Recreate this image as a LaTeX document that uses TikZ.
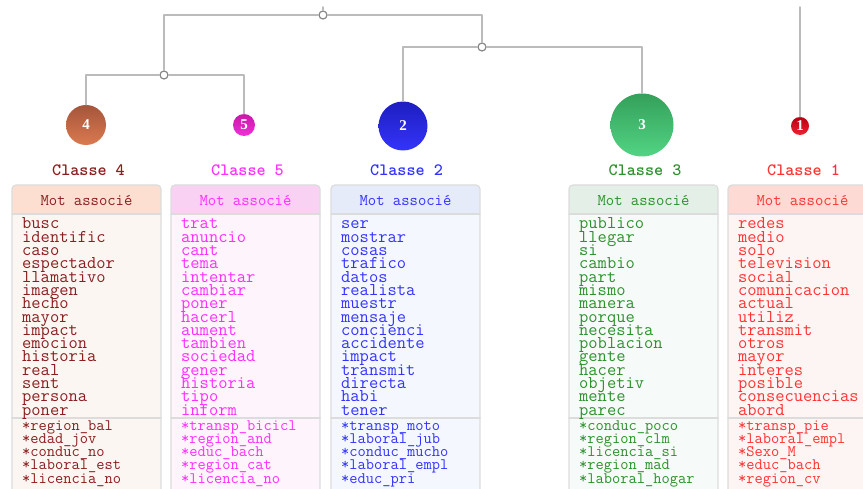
\documentclass[tikz,border=0pt]{standalone}
\usepackage{fontspec}
\newfontfamily\numfont{Liberation Serif}
% colours of the five classes: text, header, body, ball shading
\definecolor{tx4}{HTML}{8B1E1E}\definecolor{hd4}{HTML}{FDDFD2}\definecolor{bd4}{HTML}{FCF6F3}
\definecolor{tx5}{HTML}{FF2EFF}\definecolor{hd5}{HTML}{F9D2F3}\definecolor{bd5}{HTML}{FDF4FC}
\definecolor{tx2}{HTML}{3333FF}\definecolor{hd2}{HTML}{E5EBF9}\definecolor{bd2}{HTML}{F4F7FE}
\definecolor{tx3}{HTML}{2C922C}\definecolor{hd3}{HTML}{E3EFE7}\definecolor{bd3}{HTML}{F6FAF8}
\definecolor{tx1}{HTML}{FF3333}\definecolor{hd1}{HTML}{FDDAD3}\definecolor{bd1}{HTML}{FCF5F3}
\definecolor{dk4}{HTML}{A5553B}\definecolor{lt4}{HTML}{DA7A50}
\definecolor{dk5}{HTML}{C818A8}\definecolor{lt5}{HTML}{F030D8}
\definecolor{dk2}{HTML}{1E1EC0}\definecolor{lt2}{HTML}{3434FA}
\definecolor{dk3}{HTML}{34A05A}\definecolor{lt3}{HTML}{52D484}
\definecolor{dk1}{HTML}{B80010}\definecolor{lt1}{HTML}{F02232}
\definecolor{lnk}{HTML}{BBBBBB}
\definecolor{jnt}{HTML}{888888}
\definecolor{brd}{HTML}{DCDCDC}
\begin{document}
\begin{tikzpicture}[x=1pt, y=-1pt, line join=round, line cap=round,
	link/.style={draw=lnk, line width=1.5},
	joint/.style={circle, draw=jnt, fill=white, line width=1.2, inner sep=0, minimum size=8pt},
	ball/.style={circle, inner sep=0, text=white, font=\numfont\bfseries\fontsize{15}{15}\selectfont},
	classe/.style={anchor=base, inner sep=0, font=\ttfamily\bfseries\fontsize{17.3}{17.3}\selectfont},
	head/.style={anchor=base, inner sep=0, font=\ttfamily\fontsize{16.2}{16.2}\selectfont},
	word/.style={anchor=base west, inner sep=0, font=\ttfamily\fontsize{18}{18}\selectfont},
	star/.style={anchor=base west, inner sep=0, font=\ttfamily\fontsize{16}{16}\selectfont},
	frame/.style={draw=brd, line width=1.2}]
	\useasboundingbox (0,0) rectangle (863,489);
	\clip (0,0) rectangle (863,489);
	
	% tables of associated words
	\foreach \x/\c/\words/\stars in {
		12/4/{busc,identific,caso,espectador,llamativo,imagen,hecho,mayor,impact,emocion,historia,real,sent,persona,poner}/{*region\_bal,*edad\_jov,*conduc\_no,*laboral\_est,*licencia\_no},
		171/5/{trat,anuncio,cant,tema,intentar,cambiar,poner,hacerl,aument,tambien,sociedad,gener,historia,tipo,inform}/{*transp\_bicicl,*region\_and,*educ\_bach,*region\_cat,*licencia\_no},
		331/2/{ser,mostrar,cosas,trafico,datos,realista,muestr,mensaje,concienci,accidente,impact,transmit,directa,habi,tener}/{*transp\_moto,*laboral\_jub,*conduc\_mucho,*laboral\_empl,*educ\_pri},
		569/3/{publico,llegar,si,cambio,part,mismo,manera,porque,necesita,poblacion,gente,hacer,objetiv,mente,parec}/{*conduc\_poco,*region\_clm,*licencia\_si,*region\_mad,*laboral\_hogar},
		728/1/{redes,medio,solo,television,social,comunicacion,actual,utiliz,transmit,otros,mayor,interes,posible,consecuencias,abord}/{*transp\_pie,*laboral\_empl,*Sexo\_M,*educ\_bach,*region\_cv}}{
		\fill[fill=hd\c, rounded corners=4pt] (\x,185) rectangle ++(149,40);
		\fill[fill=bd\c] (\x,214) rectangle ++(149,280);
		\draw[frame, rounded corners=4pt] (\x,495) -- (\x,185) -- ++(149,0) -- ++(0,310);
		\draw[frame] (\x,214) -- ++(149,0);
		\draw[frame, line width=2] (\x,418) -- ++(149,0);
		\node[head, text=tx\c] (m\c) at (\x+74.5,206) {Mot associé};
		\foreach \w [count=\i] in \words
			\node[word, text=tx\c] (w\c-\i) at (\x+10,229+13.3*\i-13.3) {\w};
		\foreach \s [count=\i] in \stars
			\node[star, text=tx\c] (s\c-\i) at (\x+10,430+13.25*\i-13.25) {\s};
	}
	
	% class labels
	\node[classe, text=tx4] (k4) at (88.5,175.7) {Classe 4};
	\node[classe, text=tx5] (k5) at (247.5,175.7) {Classe 5};
	\node[classe, text=tx2] (k2) at (406.5,175.7) {Classe 2};
	\node[classe, text=tx3] (k3) at (645,175.7) {Classe 3};
	\node[classe, text=tx1] (k1) at (803.5,175.7) {Classe 1};
	
	% balls, size after the weight of the class
	\node[ball, minimum size=40pt, top color=dk4, bottom color=lt4] (b4) at (86,125) {4};
	\node[ball, minimum size=22pt, top color=dk5, bottom color=lt5] (b5) at (244,125) {5};
	\node[ball, minimum size=49pt, top color=dk2, bottom color=lt2] (b2) at (403,126) {2};
	\node[ball, minimum size=63pt, top color=dk3, bottom color=lt3] (b3) at (642,125) {3};
	\node[ball, minimum size=18pt, top color=dk1, bottom color=lt1] (b1) at (800,126) {1};
	
	% dendrogram
	\node[joint] (j45) at (164,75) {};
	\node[joint] (j23) at (482,47) {};
	\node[joint] (j452) at (323,15) {};
	\coordinate (root) at (323,7);
	\coordinate (top1) at (800,7);
	\draw[link] (b4) |- (j45);
	\draw[link] (b5) |- (j45);
	\draw[link] (b2) |- (j23);
	\draw[link] (b3) |- (j23);
	\draw[link] (j45) |- (j452);
	\draw[link] (j23) |- (j452);
	\draw[link] (j452) -- (root);
	\draw[link] (b1) -- (top1);
\end{tikzpicture}
\end{document}
